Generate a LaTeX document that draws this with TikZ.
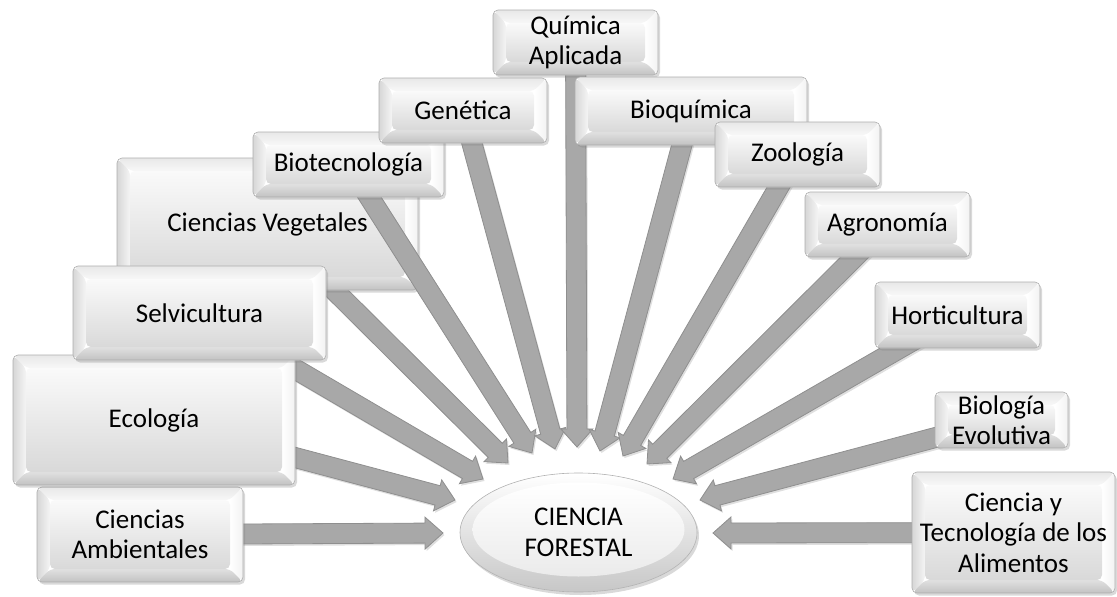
\documentclass[tikz,border=0pt]{standalone}
\usepackage{fontspec}
\setmainfont{Carlito}
\usetikzlibrary{calc,shapes.geometric,shadows}
\pgfdeclarelayer{lowest}
\pgfdeclarelayer{low}
\pgfdeclarelayer{arr}
\pgfsetlayers{lowest,low,arr,main}

\newcommand\boxfont{\fontsize{27pt}{30.5pt}\selectfont}
\newcommand\bevw{13pt}

\tikzset{
  bevelbox/.style={rectangle, rounded corners=5pt, draw=black!32, line width=.6pt,
    fill=white, inner sep=0pt, align=center, font=\boxfont, text=black,
    drop shadow={shadow xshift=2pt, shadow yshift=-2.5pt, opacity=.3},
    path picture={
      \coordinate (bNW) at (path picture bounding box.north west);
      \coordinate (bNE) at (path picture bounding box.north east);
      \coordinate (bSW) at (path picture bounding box.south west);
      \coordinate (bSE) at (path picture bounding box.south east);
      \coordinate (iNW) at ($(bNW)+(\bevw,-\bevw)$);
      \coordinate (iNE) at ($(bNE)+(-\bevw,-\bevw)$);
      \coordinate (iSW) at ($(bSW)+(\bevw,\bevw)$);
      \coordinate (iSE) at ($(bSE)+(-\bevw,\bevw)$);
      % bevel faces
      \shade[top color=black!9, bottom color=black!3] (bNW) -- (bNE) -- (iNE) -- (iNW) -- cycle;
      \shade[left color=black!16, right color=black!4] (bNW) -- (iNW) -- (iSW) -- (bSW) -- cycle;
      \shade[left color=white, right color=black!5] (bNE) -- (bSE) -- (iSE) -- (iNE) -- cycle;
      \shade[top color=black!12, bottom color=black!24] (bSW) -- (iSW) -- (iSE) -- (bSE) -- cycle;
      % front face
      \shade[top color=black!2, bottom color=black!15] (iNW) rectangle (iSE);
    }},
  hub/.style={ellipse, draw=black!30, line width=.6pt, fill=white, inner sep=0pt,
    minimum width=237pt, minimum height=119pt, align=center, font=\boxfont, text=black,
    drop shadow={shadow xshift=2pt, shadow yshift=-3pt, opacity=.3},
    path picture={
      \shade[top color=white, bottom color=black!22]
        (path picture bounding box.south west) rectangle (path picture bounding box.north east);
      \shade[top color=white, bottom color=black!8]
        ($(path picture bounding box.center)+(0pt,3pt)$) ellipse [x radius=106pt, y radius=47pt];
    }},
  arrowbody/.style={fill=black!34, draw=black!44, line width=.8pt,
    drop shadow={shadow xshift=1.5pt, shadow yshift=-2pt, opacity=.25}}
}

% thick block arrow from the centre of a box to a tip point
\newcommand{\flecha}[2]{%
  \coordinate (nk) at ($(#2)!18pt!(#1.center)$);
  \path[arrowbody]
    ($(#1.center)!10pt!90:(#2)$) -- ($(nk)!10pt!90:(#2)$) --
    ($(nk)!16pt!90:(#2)$) -- (#2) -- ($(nk)!16pt!-90:(#2)$) --
    ($(nk)!10pt!-90:(#2)$) -- ($(#1.center)!10pt!-90:(#2)$) -- cycle;}

\begin{document}
\begin{tikzpicture}[x=1pt,y=-1pt]
\useasboundingbox (0,0) rectangle (1117,597);

% arrow tips around the central ellipse
\coordinate (tCA)  at (443,533);
\coordinate (tEco) at (455,500);
\coordinate (tSel) at (483,479);
\coordinate (tCV)  at (508,463);
\coordinate (tBio) at (532,453);
\coordinate (tGen) at (555,449);
\coordinate (tQui) at (577,447);
\coordinate (tBq)  at (600,451);
\coordinate (tZoo) at (623,456);
\coordinate (tAgr) at (647,464);
\coordinate (tHor) at (673,479);
\coordinate (tBE)  at (700,500);
\coordinate (tCyT) at (713,533);

% the large box that sits under the neighbouring arrows
\begin{pgfonlayer}{low}
\node[bevelbox, minimum width=301pt, minimum height=132pt] (cv) at (267.5,224) {Ciencias Vegetales};
\end{pgfonlayer}

% discipline boxes
\node[bevelbox, minimum width=206pt, minimum height=95pt]  (ca)  at (140,534.5)  {Ciencias\\Ambientales};
\node[bevelbox, minimum width=282pt, minimum height=130pt] (eco) at (154,420)    {Ecología};
\node[bevelbox, minimum width=253pt, minimum height=94pt]  (sel) at (199.5,313)  {Selvicultura};
\node[bevelbox, minimum width=191pt, minimum height=65pt]  (bio) at (348.5,164.5) {Biotecnología};
\node[bevelbox, minimum width=168pt, minimum height=65pt]  (gen) at (463,110.5)  {Genética};
\node[bevelbox, minimum width=165pt, minimum height=65pt]  (qui) at (575.5,42.5) {Química\\Aplicada};
\node[bevelbox, minimum width=232pt, minimum height=68pt]  (bq)  at (691,111)    {Bioquímica};
\node[bevelbox, minimum width=165pt, minimum height=65pt]  (zoo) at (797.5,154.5) {Zoología};
\node[bevelbox, minimum width=165pt, minimum height=65pt]  (agr) at (887.5,224.5) {Agronomía};
\node[bevelbox, minimum width=165pt, minimum height=66pt]  (hor) at (957.5,315)  {Horticultura};
\node[bevelbox, minimum width=133pt, minimum height=56pt]  (be)  at (1001.5,420) {Biología\\Evolutiva};
\node[bevelbox, minimum width=203pt, minimum height=121pt] (cyt) at (1013.5,532.5) {Ciencia y\\Tecnología de los\\Alimentos};

% central ellipse
\node[hub] (cf) at (578.5,532.5) {CIENCIA\\FORESTAL};

% converging arrows
\begin{pgfonlayer}{lowest}
\flecha{cv}{tCV}
\end{pgfonlayer}
\begin{pgfonlayer}{arr}
\flecha{ca}{tCA}
\flecha{eco}{tEco}
\flecha{sel}{tSel}
\flecha{bio}{tBio}
\flecha{gen}{tGen}
\flecha{qui}{tQui}
\flecha{bq}{tBq}
\flecha{zoo}{tZoo}
\flecha{agr}{tAgr}
\flecha{hor}{tHor}
\flecha{be}{tBE}
\flecha{cyt}{tCyT}
\end{pgfonlayer}
\end{tikzpicture}
\end{document}
